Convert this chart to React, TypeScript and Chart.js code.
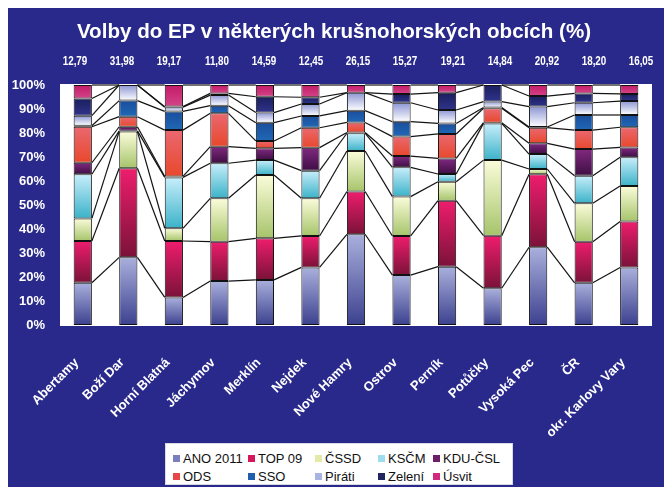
import React, { useEffect, useRef } from 'react';
import { Chart, registerables } from 'chart.js';

Chart.register(...registerables);

const categories = ['Abertamy', 'Boží Dar', 'Horní Blatná', 'Jáchymov', 'Merklín', 'Nejdek', 'Nové Hamry', 'Ostrov', 'Perník', 'Potůčky', 'Vysoká Pec', 'ČR', 'okr. Karlovy Vary'];
const turnoutLabels = ['12,79', '31,98', '19,17', '11,80', '14,59', '12,45', '26,15', '15,27', '19,21', '14,84', '20,92', '18,20', '16,05'];
const seriesNames = ['ANO 2011', 'TOP 09', 'ČSSD', 'KSČM', 'KDU-ČSL', 'ODS', 'SSO', 'Piráti', 'Zelení', 'Úsvit'];

const ano2011 = [17.6, 28.2, 11.5, 18.3, 18.8, 24.0, 37.8, 20.8, 24.3, 15.3, 32.4, 17.6, 24.0];
const top09 = [17.4, 37.1, 23.5, 16.4, 17.3, 13.1, 17.8, 16.3, 27.5, 21.9, 30.4, 17.1, 19.1];
const cssd = [9.4, 15.3, 5.3, 18.1, 26.4, 15.7, 16.9, 16.4, 7.9, 31.5, 2.2, 16.0, 14.8];
const kscm = [18.4, 0.3, 21.2, 14.6, 6.2, 11.5, 7.4, 12.2, 3.2, 15.3, 6.2, 11.5, 12.0];
const kducsl = [4.8, 1.7, 0.4, 6.9, 4.9, 9.6, 0.3, 4.7, 6.5, 0.3, 4.5, 11.1, 4.1];
const ods = [15.0, 4.2, 19.3, 13.9, 3.1, 8.3, 4.2, 8.1, 10.2, 6.0, 6.5, 7.9, 8.4];
const sso = [0.4, 6.7, 7.8, 3.2, 7.6, 4.9, 4.9, 6.2, 4.4, 0.3, 0.3, 6.3, 5.1];
const pirati = [4.2, 6.5, 1.7, 4.4, 4.2, 5.0, 7.5, 7.9, 5.6, 2.5, 8.5, 5.1, 5.8];
const zeleni = [7.2, 0, 0.3, 0.7, 6.6, 2.8, 0, 3.6, 7.2, 6.9, 4.4, 3.9, 3.0];
const usvit = [5.6, 0, 9.0, 3.5, 4.9, 5.1, 3.2, 3.8, 3.2, 0, 4.6, 3.5, 3.7];

const seriesData = [ano2011, top09, cssd, kscm, kducsl, ods, sso, pirati, zeleni, usvit];

// [top colour, bottom colour, legend colour]
const seriesColors: [string, string, string][] = [
  ['#aab0dc', '#3c418f', '#7a7fc0'],
  ['#ee1d6d', '#7a1238', '#d4185a'],
  ['#fbfcda', '#a6c46a', '#e2eaa6'],
  ['#c8eefb', '#3bb2c8', '#9edcf0'],
  ['#80297f', '#3e0e44', '#6c1f66'],
  ['#ea6870', '#e8482c', '#e8464a'],
  ['#1a4e9c', '#2068b6', '#1f5fae'],
  ['#8c96d4', '#ffffff', '#a8b4e4'],
  ['#1b1e5c', '#2f348c', '#22265e'],
  ['#c21b67', '#d44588', '#d02a80'],
];

const BG = '#29298b';

const gradientFor = (d: number) => (ctx: any) => {
  const chart = ctx.chart;
  const s = chart.scales && chart.scales.y;
  const [topC, botC, solid] = seriesColors[d];
  if (ctx.type !== 'data' || !s || !chart.chartArea) return solid;
  const i = ctx.dataIndex;
  let start = 0;
  for (let k = 0; k < d; k++) start += seriesData[k][i];
  const end = start + seriesData[d][i];
  const yTop = s.getPixelForValue(end);
  const yBot = s.getPixelForValue(start);
  if (!(yBot - yTop > 0.5)) return solid;
  const g = chart.ctx.createLinearGradient(0, yTop, 0, yBot);
  g.addColorStop(0, topC);
  g.addColorStop(1, botC);
  return g;
};

const plotBackground = {
  id: 'plotBackground',
  beforeDraw(chart: any) {
    const { ctx, chartArea } = chart;
    if (!chartArea) return;
    ctx.save();
    ctx.fillStyle = '#ffffff';
    ctx.fillRect(chartArea.left, chartArea.top - 1, chartArea.right - chartArea.left, chartArea.bottom - chartArea.top + 2);
    ctx.restore();
  },
};

const seriesLines = {
  id: 'seriesLines',
  afterDatasetsDraw(chart: any) {
    const c = chart.ctx;
    c.save();
    c.strokeStyle = '#141414';
    c.lineWidth = 1.2;
    chart.data.datasets.forEach((_: any, d: number) => {
      const meta = chart.getDatasetMeta(d);
      for (let i = 0; i < meta.data.length - 1; i++) {
        const a: any = meta.data[i];
        const b: any = meta.data[i + 1];
        c.beginPath();
        c.moveTo(a.x + a.width / 2, a.y);
        c.lineTo(b.x - b.width / 2, b.y);
        c.stroke();
      }
    });
    c.restore();
  },
};

const FONT = "'Liberation Sans', Arial, Helvetica, sans-serif";

export default function App() {
  const ref = useRef<HTMLCanvasElement | null>(null);

  useEffect(() => {
    if (!ref.current) return;
    const chart = new Chart(ref.current, {
      type: 'bar',
      data: {
        labels: categories,
        datasets: seriesNames.map((name, d) => ({
          label: name,
          data: seriesData[d],
          backgroundColor: gradientFor(d),
          borderColor: '#111111',
          borderWidth: 1,
          borderSkipped: false,
          barPercentage: 0.4,
          categoryPercentage: 1.0,
        })),
      },
      options: {
        responsive: false,
        animation: false,
        devicePixelRatio: 1,
        layout: { padding: { left: 0, right: 20, top: 77, bottom: 0 } },
        plugins: {
          legend: { display: false },
          tooltip: { enabled: false },
          title: { display: false },
        },
        scales: {
          x: {
            stacked: true,
            grid: { display: false },
            border: { display: false },
            ticks: {
              color: '#ffffff',
              font: { family: FONT, size: 13, weight: 'bold' },
              maxRotation: 45,
              minRotation: 45,
              padding: 22,
              labelOffset: -6,
              autoSkip: false,
            },
            afterFit: (scale: any) => {
              scale.height = 162;
            },
          },
          y: {
            stacked: true,
            min: 0,
            max: 100,
            grid: { display: false },
            border: { display: false },
            ticks: {
              stepSize: 10,
              color: '#ffffff',
              padding: 7,
              font: { family: FONT, size: 13, weight: 'bold' },
              callback: (v: any) => v + '%',
            },
            afterFit: (scale: any) => {
              scale.width = 52;
            },
          },
        },
      },
      plugins: [plotBackground, seriesLines],
    });
    return () => chart.destroy();
  }, []);

  const legendCols = [75, 67, 63, 55, 80];

  return (
    <div style={{ position: 'relative', width: 664, height: 479, background: BG, overflow: 'hidden', fontFamily: FONT }}>
      <canvas ref={ref} width={664} height={479} style={{ position: 'absolute', left: 0, top: 0 }} />
      <div style={{ position: 'absolute', left: 0, width: 652, top: 11, textAlign: 'center', color: '#ffffff', fontWeight: 'bold', fontSize: 20.6, lineHeight: '24px', whiteSpace: 'nowrap' }}>
        Volby do EP v některých krušnohorských obcích (%)
      </div>
      {turnoutLabels.map((t, i) => (
        <div key={i} style={{ position: 'absolute', left: 67 + i * 47.2 - 20, width: 40, top: 46, textAlign: 'center', color: '#ffffff', fontWeight: 'bold', fontSize: 12, lineHeight: '14px', transform: 'scaleX(0.82)' }}>
          {t}
        </div>
      ))}
      <div style={{ position: 'absolute', left: 157, top: 435, width: 348, height: 42, boxSizing: 'border-box', background: '#ffffff', border: '1px solid #d8d8e0', paddingTop: 5, paddingLeft: 7 }}>
        <div style={{ display: 'grid', gridTemplateColumns: legendCols.map((w) => w + 'px').join(' '), gridAutoRows: '18px' }}>
          {seriesNames.map((name, d) => (
            <div key={name} style={{ display: 'flex', alignItems: 'center', fontSize: 13, color: '#111111', whiteSpace: 'nowrap' }}>
              <span style={{ display: 'inline-block', width: 7, height: 7, background: seriesColors[d][2], marginRight: 3 }} />
              {name}
            </div>
          ))}
        </div>
      </div>
    </div>
  );
}
